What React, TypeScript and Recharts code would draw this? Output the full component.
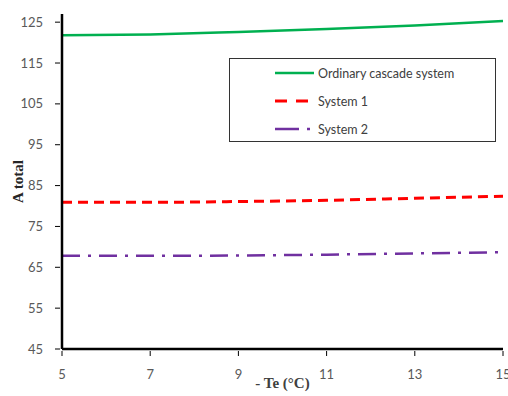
import {
  Label,
  Line,
  LineChart,
  XAxis,
  YAxis,
} from "recharts";

// -Te (°C)
const teValues = [5, 7, 9, 11, 13, 15];
const ordinaryCascade = [121.8, 122.0, 122.6, 123.3, 124.2, 125.3];
const system1 = [80.9, 80.9, 81.1, 81.4, 81.9, 82.4];
const system2 = [67.8, 67.8, 67.9, 68.1, 68.4, 68.7];

const xTicks = [5, 7, 9, 11, 13, 15];
const yTicks = [45, 55, 65, 75, 85, 95, 105, 115, 125];

const seriesInfo = [
  { key: "ordinary", label: "Ordinary cascade system", color: "#00b050", dash: undefined, width: 2.5 },
  { key: "sys1", label: "System 1", color: "#ff0000", dash: "10 6", width: 3 },
  { key: "sys2", label: "System 2", color: "#7030a0", dash: "18 8 3 8", width: 2.5 },
];

const data = teValues.map((te, i) => ({
  te,
  ordinary: ordinaryCascade[i],
  sys1: system1[i],
  sys2: system2[i],
}));

const TICK_FONT = "Lato, 'Open Sans', sans-serif";
const TITLE_FONT = "'Liberation Serif', 'DejaVu Serif', serif";

// ticks point inward, like the original
function XTick({ x, y, payload }: any) {
  return (
    <g>
      <line x1={x} x2={x} y1={y - 1} y2={y - 6} stroke="#000" strokeWidth={1} />
      <text x={x} y={y + 22} textAnchor="middle" fill="#595959" fontSize={13} fontFamily={TICK_FONT}>
        {payload.value}
      </text>
    </g>
  );
}

function YTick({ x, y, payload }: any) {
  return (
    <g>
      <line x1={x + 1} x2={x + 6} y1={y} y2={y} stroke="#000" strokeWidth={1} />
      <text x={x - 11} y={y + 4.5} textAnchor="end" fill="#595959" fontSize={13} fontFamily={TICK_FONT}>
        {payload.value}
      </text>
    </g>
  );
}

// legend drawn over the plot, outside recharts' layout so it doesn't eat space
function LegendBox() {
  return (
    <div
      style={{
        position: "absolute",
        left: 229,
        top: 58,
        width: 267,
        height: 84,
        border: "1.5px solid #333",
        boxSizing: "border-box",
        background: "#fff",
      }}
    >
      {seriesInfo.map((s) => (
        <div key={s.key} style={{ display: "flex", alignItems: "center", height: 28 }}>
          <svg width={88} height={10}>
            <line
              x1={45}
              x2={84}
              y1={5}
              y2={5}
              stroke={s.color}
              strokeWidth={s.width}
              strokeDasharray={s.key === "sys1" ? "12 9" : s.key === "sys2" ? "24 8 3 8" : undefined}
            />
          </svg>
          <span style={{ fontFamily: TICK_FONT, fontSize: 12.5, color: "#404040" }}>{s.label}</span>
        </div>
      ))}
    </div>
  );
}

export default function App() {
  return (
    <div style={{ position: "absolute", left: 0, top: 0, width: 508, height: 396, background: "#fff" }}>
      <LineChart
        width={508}
        height={396}
        data={data}
        margin={{ top: 14, right: 5, bottom: 17, left: 0 }}
      >
        <XAxis
          dataKey="te"
          type="number"
          domain={[5, 15]}
          ticks={xTicks}
          tick={<XTick />}
          tickLine={false}
          axisLine={{ stroke: "#000", strokeWidth: 2.5 }}
          height={30}
          interval={0}
        >
          <Label
            value="- Te (°C)"
            position="bottom"
            offset={-2}
            style={{ fontFamily: TITLE_FONT, fontWeight: "bold", fontSize: 15, fill: "#404040" }}
          />
        </XAxis>
        <XAxis
          xAxisId="top"
          orientation="top"
          dataKey="te"
          type="number"
          domain={[5, 15]}
          tick={false}
          tickLine={false}
          axisLine={{ stroke: "#333", strokeWidth: 2 }}
          height={0}
        />
        <YAxis
          type="number"
          domain={[45, 127]}
          ticks={yTicks}
          tick={<YTick />}
          tickLine={false}
          axisLine={{ stroke: "#000", strokeWidth: 2.5 }}
          width={62}
          interval={0}
        >
          <Label
            value="A total"
            angle={-90}
            position="insideLeft"
            offset={18}
            style={{ fontFamily: TITLE_FONT, fontWeight: "bold", fontSize: 15, fill: "#262626", textAnchor: "middle" }}
          />
        </YAxis>
        <YAxis
          yAxisId="right"
          orientation="right"
          type="number"
          domain={[45, 127]}
          tick={false}
          tickLine={false}
          axisLine={{ stroke: "#333", strokeWidth: 2 }}
          width={0}
        />
        {seriesInfo.map((s) => (
          <Line
            key={s.key}
            type="monotone"
            dataKey={s.key}
            stroke={s.color}
            strokeWidth={s.width}
            strokeDasharray={s.dash}
            dot={false}
            isAnimationActive={false}
          />
        ))}
      </LineChart>
      <LegendBox />
    </div>
  );
}
